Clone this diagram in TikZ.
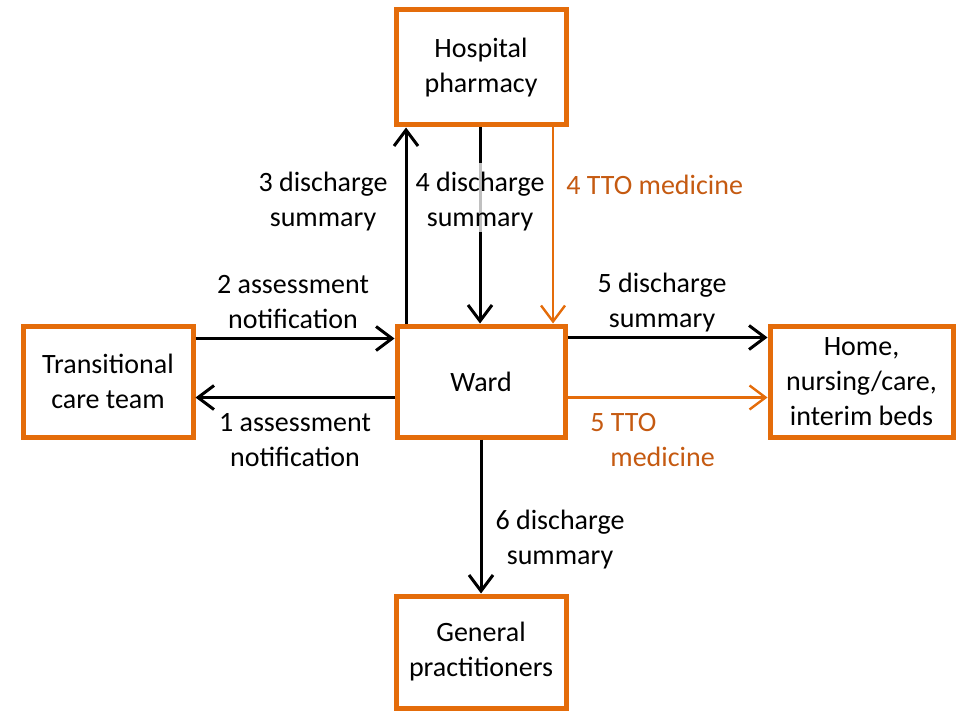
\documentclass[tikz,border=0pt]{standalone}
\usepackage{fontspec}
\setmainfont{Carlito}
\usetikzlibrary{arrows.meta}
\definecolor{boxorange}{RGB}{228,108,10}
\definecolor{ttotext}{RGB}{197,90,17}
\definecolor{hilite}{RGB}{192,192,192}
\begin{document}
\begin{tikzpicture}[x=0.5pt,y=-0.5pt,
  every node/.style={font=\fontsize{14}{17.5}\selectfont, inner sep=0pt},
  unit/.style={draw=boxorange, line width=2.5pt, fill=white, align=center},
  flow/.style={line width=1.5pt, -{Straight Barb[length=8pt,width=12pt,line width=1.5pt]}},
  tto/.style={draw=boxorange, line width=1.2pt, -{Straight Barb[length=8pt,width=12pt,line width=1.2pt]}},
  lbl/.style={align=center},
  ttolbl/.style={text=ttotext}
]
\useasboundingbox (0,0) rectangle (957,711);

% organisational units
\node[unit, minimum width=85pt, minimum height=57.5pt] (pharm) at (481,67.5) {Hospital\\pharmacy};
\node[unit, minimum width=84pt, minimum height=55.5pt] (ward) at (481,381.5) {Ward};
\node[unit, minimum width=85pt, minimum height=55.5pt] (tct) at (108,381.5) {Transitional\\care team};
\node[unit, minimum width=91.5pt, minimum height=55.5pt] (home) at (861.5,381.5) {Home,\\nursing/care,\\interim beds};
\node[unit, minimum width=85pt, minimum height=56pt] (gp) at (481,652) {General\\practitioners};

% ward <-> pharmacy
\draw[flow] ([xshift=-37.5pt]ward.north) -- ([xshift=-37.5pt]pharm.south);
\draw[flow] ([xshift=-0.5pt]pharm.south) -- ([xshift=-0.5pt]ward.north);
\draw[hilite, line width=1.5pt] (480,163) -- (480,232);
\draw[tto] ([xshift=36pt]pharm.south) -- ([xshift=36pt]ward.north);

% ward <-> transitional care team
\draw[flow] ([yshift=21.5pt]tct.east) -- ([yshift=21.5pt]ward.west);
\draw[flow] ([yshift=-8pt]ward.west) -- ([yshift=-8pt]tct.east);

% ward -> home / onward care
\draw[flow] ([yshift=22pt]ward.east) -- ([yshift=22pt]home.west);
\draw[tto] ([yshift=-8pt]ward.east) -- ([yshift=-8pt]home.west);

% ward -> general practitioners
\draw[flow] (ward.south) -- (gp.north);

% flow labels
\node[lbl] (l3) at (323,202) {3 discharge\\summary};
\node[lbl] (l4) at (480,202) {4 discharge\\summary};
\node[ttolbl, anchor=west] (l4t) at (566,185) {4 TTO medicine};
\node[lbl] (l2) at (293,302.5) {2 assessment\\notification};
\node[lbl] (l1) at (295,440) {1 assessment\\notification};
\node[lbl] (l5) at (662,302.5) {5 discharge\\summary};
\node[ttolbl, align=left, anchor=west] (l5t) at (590,440) {5 TTO\\\hspace*{10pt}medicine};
\node[lbl] (l6) at (560,540) {6 discharge\\summary};
\end{tikzpicture}
\end{document}
